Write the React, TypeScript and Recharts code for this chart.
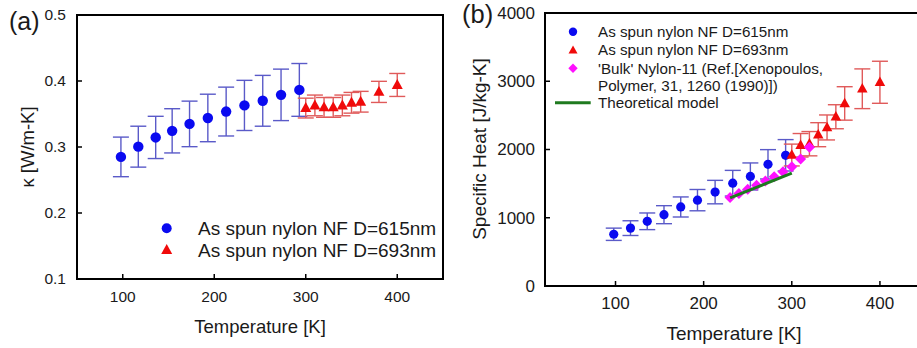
import React from 'react';
import { ScatterChart, Scatter, XAxis, YAxis, ErrorBar, ReferenceArea } from 'recharts';

const FONT = '"Liberation Sans", Arial, Helvetica, sans-serif';

// ---- Panel (a): thermal conductivity ----
const tempsA615 = [98, 117, 136, 154, 173, 193, 213, 233, 253, 273, 293];
const kappa615 = [0.285, 0.3005, 0.3145, 0.3245, 0.335, 0.344, 0.3537, 0.363, 0.37, 0.379, 0.3865];
const kappaErr615 = [0.03, 0.031, 0.032, 0.0335, 0.0345, 0.036, 0.037, 0.038, 0.0385, 0.039, 0.04];

const temps693 = [300, 310, 320, 330, 340, 350, 360, 380, 400];
const kappa693 = [0.359, 0.363, 0.36, 0.36, 0.363, 0.367, 0.3686, 0.3835, 0.394];
const kappaErr693 = [0.015, 0.0157, 0.015, 0.015, 0.0157, 0.0157, 0.0157, 0.016, 0.0174];

const xTicksA = [100, 200, 300, 400];
const yTicksA = [0.1, 0.2, 0.3, 0.4, 0.5];

// ---- Panel (b): specific heat ----
const tempsB615 = [98, 117, 136, 155, 174, 193, 213, 233, 253, 273, 293];
const cp615 = [758, 848, 948, 1045, 1158, 1258, 1376, 1506, 1605, 1783, 1915];
const cpErr615 = [90, 108, 122, 132, 147, 156, 172, 188, 198, 215, 230];

const cp693 = [1919, 2062, 2085, 2217, 2323, 2480, 2675, 2890, 2985];
const cpErr693 = [160, 172, 178, 176, 183, 176, 245, 291, 308];

const bulkTemps = [230, 240, 250, 260, 270, 280, 290, 300, 310, 320];
const bulkCp = [1298, 1357, 1416, 1475, 1538, 1601, 1674, 1747, 1860, 2032];

const modelTemps = [230, 300];
const modelCp = [1290, 1655];

const xTicksB = [100, 200, 300, 400];
const yTicksB = [0, 1000, 2000, 3000, 4000];

const zip = (xs: number[], ys: number[], es?: number[]) =>
  xs.map((x, i) => ({ x, y: ys[i], err: es ? es[i] : 0 }));

const dataA615 = zip(tempsA615, kappa615, kappaErr615);
const dataA693 = zip(temps693, kappa693, kappaErr693);
const dataB615 = zip(tempsB615, cp615, cpErr615);
const dataB693 = zip(temps693, cp693, cpErr693);
const dataBulk = zip(bulkTemps, bulkCp);
const dataModel = zip(modelTemps, modelCp);

const BLUE = '#0a0af0';
const BLUE_ERR = '#5a5ac8';
const RED = '#f00a0a';
const RED_ERR = '#e05a5a';
const MAGENTA = '#ff10ff';
const GREEN = '#1f7a1f';
const TEXT = '#1a1a1a';

const circleShape = (r: number, fill: string) => (p: any) =>
  <circle cx={p.cx} cy={p.cy} r={r} fill={fill} />;
const triangleShape = (w: number, fill: string) => (p: any) => {
  const h = w * 0.9;
  return (
    <polygon
      points={`${p.cx},${p.cy - h * 0.6} ${p.cx - w / 2},${p.cy + h * 0.4} ${p.cx + w / 2},${p.cy + h * 0.4}`}
      fill={fill}
    />
  );
};
const diamondShape = (w: number, fill: string) => (p: any) => (
  <polygon
    points={`${p.cx},${p.cy - w / 2} ${p.cx + w / 2},${p.cy} ${p.cx},${p.cy + w / 2} ${p.cx - w / 2},${p.cy}`}
    fill={fill}
  />
);

const makeYTick = (axisX: number, labelX: number, fontSize: number, fmt: (v: number) => string) => (props: any) => {
  const { y, payload } = props;
  return (
    <g>
      <line x1={axisX} x2={axisX + 5} y1={y} y2={y} stroke="#000" strokeWidth={1.5} />
      <text x={labelX} y={y} dy="0.35em" textAnchor="end" fontSize={fontSize} fontFamily={FONT} fill={TEXT}>
        {fmt(payload.value)}
      </text>
    </g>
  );
};
const makeXTick = (axisY: number, labelY: number, fontSize: number) => (props: any) => {
  const { x, payload } = props;
  return (
    <g>
      <line x1={x} x2={x} y1={axisY} y2={axisY - 5} stroke="#000" strokeWidth={1.5} />
      <text x={x} y={labelY} textAnchor="middle" fontSize={fontSize} fontFamily={FONT} fill={TEXT}>
        {payload.value}
      </text>
    </g>
  );
};

function PanelA() {
  return (
    <ScatterChart width={460} height={348} margin={{ top: 15, right: 17, bottom: 0, left: 0 }}>
      <XAxis
        type="number"
        dataKey="x"
        domain={[50, 450]}
        ticks={xTicksA}
        allowDataOverflow
        height={69}
        axisLine={false}
        tickLine={false}
        tick={makeXTick(279, 302, 15.5)}
        interval={0}
      />
      <YAxis
        type="number"
        dataKey="y"
        domain={[0.1, 0.5]}
        ticks={yTicksA}
        allowDataOverflow
        width={77}
        axisLine={false}
        tickLine={false}
        tick={makeYTick(77, 66, 15.5, (v) => v.toFixed(1))}
        interval={0}
      />
      <ReferenceArea x1={50} x2={450} y1={0.1} y2={0.5} fill="none" stroke="#000" strokeWidth={2} />
      <Scatter data={dataA615} shape={circleShape(5.2, BLUE)} isAnimationActive={false}>
        <ErrorBar dataKey="err" direction="y" width={8} stroke={BLUE_ERR} strokeWidth={1.4} />
      </Scatter>
      <Scatter data={dataA693} shape={triangleShape(11, RED)} isAnimationActive={false}>
        <ErrorBar dataKey="err" direction="y" width={8} stroke={RED_ERR} strokeWidth={1.4} />
      </Scatter>
    </ScatterChart>
  );
}

function PanelB() {
  return (
    <ScatterChart width={480} height={348} margin={{ top: 13, right: 14, bottom: 0, left: 0 }}>
      <XAxis
        type="number"
        dataKey="x"
        domain={[20, 450]}
        ticks={xTicksB}
        allowDataOverflow
        height={62}
        axisLine={false}
        tickLine={false}
        tick={makeXTick(286, 309, 17)}
        interval={0}
      />
      <YAxis
        type="number"
        dataKey="y"
        domain={[0, 4000]}
        ticks={yTicksB}
        allowDataOverflow
        width={87}
        axisLine={false}
        tickLine={false}
        tick={makeYTick(87, 77, 17, (v) => String(v))}
        interval={0}
      />
      <ReferenceArea x1={20} x2={450} y1={0} y2={4000} fill="none" stroke="#000" strokeWidth={2} />
      <Scatter data={dataB615} shape={circleShape(4.6, BLUE)} isAnimationActive={false}>
        <ErrorBar dataKey="err" direction="y" width={8} stroke={BLUE_ERR} strokeWidth={1.4} />
      </Scatter>
      <Scatter data={dataB693} shape={triangleShape(10.5, RED)} isAnimationActive={false}>
        <ErrorBar dataKey="err" direction="y" width={8} stroke={RED_ERR} strokeWidth={1.4} />
      </Scatter>
      <Scatter data={dataBulk} shape={diamondShape(11, MAGENTA)} isAnimationActive={false} />
      <Scatter
        data={dataModel}
        line={{ stroke: GREEN, strokeWidth: 3 }}
        shape={() => <g />}
        isAnimationActive={false}
      />
    </ScatterChart>
  );
}

function Overlay() {
  const t = { fontFamily: FONT, fill: TEXT } as const;
  return (
    <svg width={917} height={348} style={{ position: 'absolute', left: 0, top: 0, pointerEvents: 'none' }}>
      {/* Panel (a) */}
      <text x={9} y={30} fontSize={25} {...t}>(a)</text>
      <text x={260} y={332.5} fontSize={18.5} textAnchor="middle" {...t}>Temperature [K]</text>
      <text x={28} y={147} dy="0.35em" fontSize={18.5} textAnchor="middle" transform="rotate(-90 28 147)" {...t}>
        κ [W/m-K]
      </text>
      <circle cx={166.7} cy={228.3} r={5} fill={BLUE} />
      <polygon points="166.7,244 161.2,254 172.2,254" fill={RED} />
      <text x={198} y={228.3} dy="0.35em" fontSize={19} {...t}>As spun nylon NF D=615nm</text>
      <text x={198} y={250} dy="0.35em" fontSize={19} {...t}>As spun nylon NF D=693nm</text>

      {/* Panel (b) */}
      <text x={462} y={23} fontSize={25.5} {...t}>(b)</text>
      <text x={734} y={339.6} fontSize={19} textAnchor="middle" {...t}>Temperature [K]</text>
      <text x={479.7} y={149} dy="0.35em" fontSize={19} textAnchor="middle" transform="rotate(-90 479.7 149)" {...t}>
        Specific Heat [J/kg-K]
      </text>
      <circle cx={573} cy={31.7} r={4.2} fill={BLUE} />
      <polygon points="573,45.5 568.5,53.5 577.5,53.5" fill={RED} />
      <polygon points="573,63.6 577.7,68.3 573,73 568.3,68.3" fill={MAGENTA} />
      <line x1={555} x2={590.7} y1={102.7} y2={102.7} stroke={GREEN} strokeWidth={3} />
      <text x={598} y={31.7} dy="0.35em" fontSize={15.2} {...t}>As spun nylon NF D=615nm</text>
      <text x={598} y={50} dy="0.35em" fontSize={15.2} {...t}>As spun nylon NF D=693nm</text>
      <text x={598} y={68.3} dy="0.35em" fontSize={15.2} {...t}>'Bulk' Nylon-11 (Ref.[Xenopoulos,</text>
      <text x={598} y={86} dy="0.35em" fontSize={15.2} {...t}>Polymer, 31, 1260 (1990)])</text>
      <text x={598} y={102.7} dy="0.35em" fontSize={15.2} {...t}>Theoretical model</text>
    </svg>
  );
}

export default function App() {
  return (
    <div style={{ position: 'absolute', left: 0, top: 0, width: 917, height: 348, overflow: 'hidden', background: '#fff' }}>
      <div style={{ position: 'absolute', left: 0, top: 0 }}>
        <PanelA />
      </div>
      <div style={{ position: 'absolute', left: 458, top: 0 }}>
        <PanelB />
      </div>
      <Overlay />
    </div>
  );
}
